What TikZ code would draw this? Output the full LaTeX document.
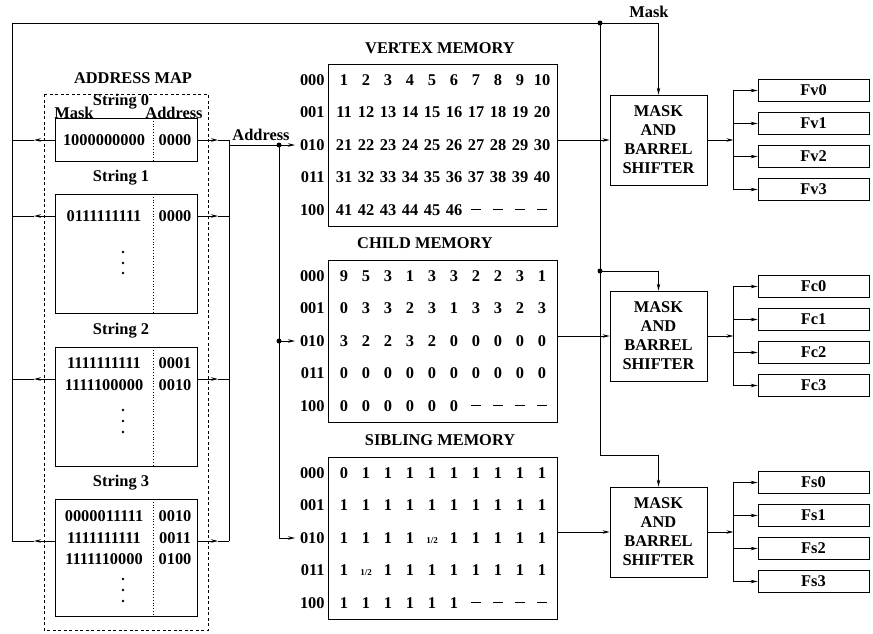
\documentclass[tikz,border=0pt]{standalone}
\usepackage{fontspec}
\setmainfont{Liberation Serif}
\usetikzlibrary{arrows.meta}

\tikzset{
  lbl/.style={font=\fontsize{16.4}{19}\selectfont\bfseries, inner sep=0pt},
  arr/.style={-{Stealth[length=7pt,width=3.5pt]}},
  box/.style={draw, rectangle, inner sep=0pt},
  shfbox/.style={box, lbl, align=center, minimum width=97pt, minimum height=90pt},
  outbox/.style={box, lbl, minimum width=111pt, minimum height=22pt},
  membox/.style={box, minimum width=229pt, minimum height=162pt},
  dot/.style={circle, fill, inner sep=0pt, minimum size=5pt}
}

\begin{document}
\begin{tikzpicture}[x=1pt, y=-1pt, line width=0.8pt]
\useasboundingbox (0,0) rectangle (873,633);

% Small helpers for the tables
\def\na{\vphantom{0}\rule[5pt]{10pt}{1pt}}
\def\hf{\vphantom{0}{\fontsize{9}{9}\selectfont 1/2}}

% Address map
\node[lbl] (amtitle) at (133,78) {ADDRESS MAP};
\draw[dash pattern=on 3pt off 2.5pt] (44,94) rectangle (208,630);
\foreach \t/\b [count=\i from 0] in {118/161,194/313,347/466,499/616} {
  \node[box, minimum width=142pt, minimum height={(\b-\t)*1pt}] (str\i) at (126,{(\t+\b)/2}) {};
  \draw[dotted] (153,\t) -- (153,\b);
}
\foreach \y [count=\i from 0] in {102,178,331,483}
  \node[lbl] (strlab\i) at (121,\y) {String \i};
\node[lbl] (maskhead) at (74,113) {Mask};
\node[lbl] (addrhead) at (174,113) {Address};
\foreach \m/\a/\y [count=\k] in {1000000000/0000/140, 0111111111/0000/216,
    1111111111/0001/363, 1111100000/0010/385, 0000011111/0010/516,
    1111111111/0011/538, 1111110000/0100/559} {
  \node[lbl] (mrow\k) at (104,\y) {\m};
  \node[lbl] (arow\k) at (175,\y) {\a};
}
% vertical dots
\foreach \y in {252,263,273,410,421,432,579,590,601}
  \fill (123,\y) circle (1.3pt);

% Buses on both sides of the address map
\coordinate (ltop) at (12,23);
\coordinate (rtop) at (229,140);
\foreach \y [count=\i from 0] in {140,216,379,541} {
  \coordinate (la\i) at (34,\y);
  \coordinate (ra\i) at (218,\y);
  \draw[arr] (str\i.west |- la\i) -- (la\i);
  \draw (la\i) -- (la\i -| ltop);
  \draw[arr] (str\i.east |- ra\i) -- (ra\i);
  \draw (ra\i) -- (ra\i -| rtop);
}
\draw (ltop) -- (la3 -| ltop);
\draw (rtop) -- (ra3 -| rtop);

% Address lines into the memories
\node[lbl] (addrlab) at (261,135) {Address};
\coordinate (aj) at (279,145);
\coordinate (vin) at (295,145);
\coordinate (cin) at (295,341);
\coordinate (sin) at (295,538);
\draw (rtop |- aj) -- (aj);
\draw[arr] (aj) -- (vin);
\draw (aj) -- (aj |- sin);
\draw[arr] (aj |- cin) -- (cin);
\draw[arr] (aj |- sin) -- (sin);
\node[dot] (ajdot) at (aj) {};
\node[dot] (cjdot) at (aj |- cin) {};

% Memories
\node[lbl] (vtitle) at (440,48) {VERTEX MEMORY};
\node[lbl] (ctitle) at (425,243) {CHILD MEMORY};
\node[lbl] (stitle) at (440,440) {SIBLING MEMORY};
\node[membox] (vmem) at (442.5,145) {};
\node[membox] (cmem) at (442.5,341) {};
\node[membox] (smem) at (442.5,538) {};
\foreach \cy/\n in {145/v,341/c,538/s}
  \foreach \lab [count=\r from 0] in {000,001,010,011,100}
    \node[lbl, anchor=east] (\n lab\r) at (325,{\cy+32.5*(\r-2)}) {\lab};

\foreach \vals [count=\r from 0] in {{1,2,3,4,5,6,7,8,9,10},{11,12,13,14,15,16,17,18,19,20},
    {21,22,23,24,25,26,27,28,29,30},{31,32,33,34,35,36,37,38,39,40},
    {41,42,43,44,45,46,\na,\na,\na,\na}}
  \foreach \v [count=\c from 0] in \vals
    \node[lbl] (v\r-\c) at ({344+22*\c},{80+32.5*\r}) {\v};

\foreach \vals [count=\r from 0] in {{9,5,3,1,3,3,2,2,3,1},{0,3,3,2,3,1,3,3,2,3},
    {3,2,2,3,2,0,0,0,0,0},{0,0,0,0,0,0,0,0,0,0},{0,0,0,0,0,0,\na,\na,\na,\na}}
  \foreach \v [count=\c from 0] in \vals
    \node[lbl] (c\r-\c) at ({344+22*\c},{276+32.5*\r}) {\v};

\foreach \vals [count=\r from 0] in {{0,1,1,1,1,1,1,1,1,1},{1,1,1,1,1,1,1,1,1,1},
    {1,1,1,1,\hf,1,1,1,1,1},{1,\hf,1,1,1,1,1,1,1,1},{1,1,1,1,1,1,\na,\na,\na,\na}}
  \foreach \v [count=\c from 0] in \vals
    \node[lbl] (s\r-\c) at ({344+22*\c},{473+32.5*\r}) {\v};

% Mask and barrel shifters
\foreach \n/\y in {v/140,c/336,s/532}
  \node[shfbox] (shf\n) at (658.5,\y) {MASK\\AND\\BARREL\\SHIFTER};
\draw[arr] (vmem.east |- shfv.west) -- (shfv.west);
\draw[arr] (cmem.east |- shfc.west) -- (shfc.west);
\draw[arr] (smem.east |- shfs.west) -- (shfs.west);

% Mask line from the address map
\node[lbl] (masklab) at (649,12) {Mask};
\coordinate (mj) at (600,23);
\coordinate (mc) at (600,271);
\coordinate (ms) at (600,455);
\draw (ltop) -- (mj) -- (ms);
\draw[arr] (mj) -| (shfv.north);
\draw[arr] (mc) -| (shfc.north);
\draw[arr] (ms) -| (shfs.north);
\node[dot] (mjdot) at (mj) {};
\node[dot] (mcdot) at (mc) {};

% Outputs
\foreach \n/\F/\y in {v/Fv/140,c/Fc/336,s/Fs/532} {
  \path (shf\n.east) ++(26,0) coordinate (j\n);
  \draw[arr] (shf\n.east) -- (j\n);
  \foreach \d [count=\k from 0] in {-49.5,-16.5,16.5,49.5} {
    \node[outbox] (\F\k) at (813.5,{\y+(\d)}) {\F\k};
    \draw[arr] (j\n |- \F\k.west) -- (\F\k.west);
  }
  \draw (j\n |- \F0.west) -- (j\n |- \F3.west);
}

\end{tikzpicture}
\end{document}
